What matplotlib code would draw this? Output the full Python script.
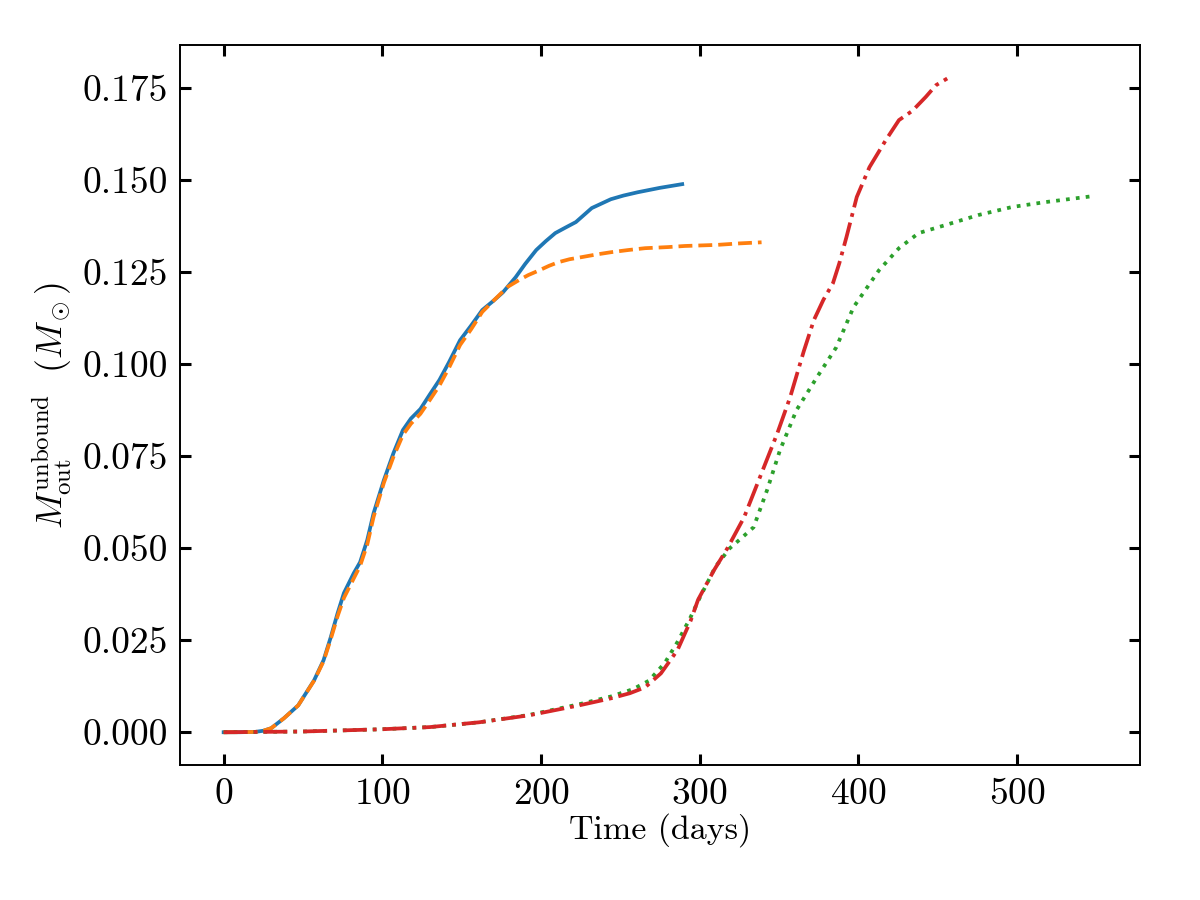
import matplotlib
matplotlib.use("Agg")
import matplotlib.pyplot as plt

plt.rcParams['font.family'] = 'serif'
plt.rcParams['font.serif'] = ['cmr10', 'DejaVu Serif']
plt.rcParams['mathtext.fontset'] = 'cm'
plt.rcParams['axes.formatter.use_mathtext'] = True

# Blue solid
t_blue = [0, 10, 20, 25, 30, 38, 47, 57, 63, 67.5, 71.8, 75.8, 82, 86, 90.5, 94.5, 101, 107, 113, 118,
          124, 130, 136, 142, 149, 156, 163, 170, 176, 184, 190, 197, 203, 209, 215, 222, 232, 244,
          252, 261, 275, 289]
m_blue = [0, 0, 0.0001, 0.0004, 0.0011, 0.0038, 0.0073, 0.0141, 0.0196, 0.0258, 0.0323, 0.0378, 0.0432,
          0.0462, 0.0522, 0.0595, 0.0685, 0.0758, 0.0821, 0.0852, 0.0878, 0.0918, 0.0957, 0.1005,
          0.1065, 0.1105, 0.1147, 0.1172, 0.1195, 0.1236, 0.1272, 0.131, 0.1334, 0.1356, 0.137, 0.1386,
          0.1424, 0.1448, 0.1458, 0.1467, 0.1479, 0.1489]

# Orange dashed
t_orange = [0, 10, 20, 25, 30, 38, 47, 57, 63, 67.5, 71.8, 75.8, 82, 86, 90.5, 94.5, 101, 107, 113, 118,
            124, 130, 136, 142, 149, 156, 163, 170, 179, 186, 192, 199, 205, 211, 218, 226, 235, 244,
            255, 265.6, 280, 290.6, 311, 325, 339]
m_orange = [0, 0, 0.0001, 0.0004, 0.0011, 0.0038, 0.0073, 0.014, 0.0193, 0.0253, 0.0315, 0.0365, 0.0418,
            0.0452, 0.051, 0.0585, 0.0678, 0.0748, 0.0808, 0.0838, 0.0865, 0.0903, 0.0942, 0.099,
            0.1052, 0.1095, 0.1142, 0.1172, 0.121, 0.1228, 0.1242, 0.1255, 0.1267, 0.1277, 0.1285,
            0.1291, 0.1298, 0.1304, 0.131, 0.1315, 0.1318, 0.1321, 0.1324, 0.1328, 0.1331]

# Green dotted
t_green = [0, 50, 99, 130, 161, 192.5, 224, 244, 258, 268, 278, 286, 294, 300, 310, 319, 327, 334, 342.5,
           350.6, 361, 374, 386, 397, 405, 413, 425.6, 438, 455, 475.6, 497, 517.5, 547]
m_green = [0, 0.0002, 0.0008, 0.0014, 0.0027, 0.0047, 0.0076, 0.0097, 0.0117, 0.014, 0.0188, 0.0245,
           0.031, 0.0365, 0.045, 0.050, 0.053, 0.0557, 0.0658, 0.0766, 0.0875, 0.0965, 0.1045, 0.1155,
           0.1205, 0.1255, 0.1315, 0.1356, 0.1378, 0.1405, 0.1427, 0.144, 0.1456]

# Red dash-dot
t_red = [0, 50, 99, 130, 161, 192.5, 224, 244, 256, 265.6, 275.6, 286, 294.4, 299, 309, 317.5, 328, 338,
         349, 357, 365.6, 372, 378, 384, 388, 392.5, 399, 407, 417.5, 425.6, 434, 442.5, 449, 456]
m_red = [0, 0.0002, 0.0008, 0.0014, 0.0027, 0.0046, 0.0073, 0.0092, 0.0106, 0.0122, 0.016, 0.0223,
         0.0304, 0.036, 0.044, 0.050, 0.0584, 0.0693, 0.0813, 0.091, 0.1035, 0.112, 0.1175, 0.122,
         0.1274, 0.1345, 0.1454, 0.1535, 0.161, 0.1663, 0.1688, 0.1726, 0.1758, 0.1776]

fig = plt.figure(figsize=(12, 9), dpi=100)
ax = fig.add_axes([0.15, 0.15, 0.80, 0.80])

lw = 2.7
ax.plot(t_blue, m_blue, color='#1f77b4', lw=lw, ls='-')
ax.plot(t_orange, m_orange, color='#ff7f0e', lw=lw, ls='--')
ax.plot(t_green, m_green, color='#2ca02c', lw=lw, ls=':')
ax.plot(t_red, m_red, color='#d62728', lw=lw, ls='-.')

ax.set_xticks([0, 100, 200, 300, 400, 500])
ax.set_yticks([0.0, 0.025, 0.05, 0.075, 0.1, 0.125, 0.15, 0.175])
ax.set_yticklabels(['0.000', '0.025', '0.050', '0.075', '0.100', '0.125', '0.150', '0.175'])
ax.set_xlim(-27.5, 577.5)
ax.set_ylim(-0.0089, 0.1867)

ax.tick_params(direction='in', top=True, right=True, length=8, width=2.2, labelsize=27, pad=9)
for sp in ax.spines.values():
    sp.set_linewidth(1.4)

ax.set_xlabel('Time (days)', fontsize=24.5, labelpad=2)
ax.set_ylabel(r'$M_{\rm out}^{\rm unbound}\ \ (M_\odot)$', fontsize=25.5, labelpad=6)

fig.savefig('out.png', dpi=100)
